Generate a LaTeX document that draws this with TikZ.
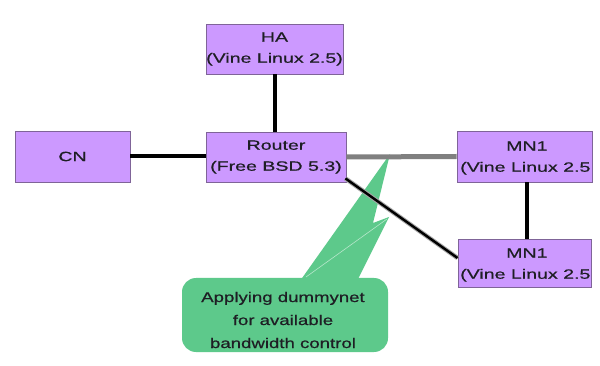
\documentclass[tikz,border=0pt]{standalone}
\usepackage{fontspec}
\setmainfont{Liberation Sans}
\newfontfamily\boxfont[FakeStretch=1.45,FakeBold=0.6]{Liberation Sans}
\newfontfamily\notefont[FakeStretch=1.33,FakeBold=0.6]{Liberation Sans}
\usetikzlibrary{calc}
\definecolor{boxfill}{HTML}{CC99FF}
\definecolor{boxline}{HTML}{7F6498}
\definecolor{notegreen}{HTML}{5DC98B}
\definecolor{txt}{HTML}{1E1E24}
\tikzset{
  hostbox/.style={draw=boxline, line width=0.9pt, fill=boxfill, inner sep=0pt,
    text=txt, font=\boxfont\fontsize{13.5}{21}\selectfont, align=center},
  wire/.style={line width=4pt, black},
  slowwire/.style={line width=5pt, color=black!50},
  notetext/.style={text=txt, font=\notefont\fontsize{14}{23}\selectfont, align=center, inner sep=0pt},
}
\begin{document}
\begin{tikzpicture}[x=1pt,y=-1pt]
\useasboundingbox[fill=white] (0,0) rectangle (600,366);

% callout
\fill[notegreen, rounded corners=14pt] (182,278) rectangle (388,352);
\fill[notegreen] (300,281) -- (390,154) -- (373,223) -- (389,217) -- (357,281) -- cycle;
\draw[white, opacity=0.55, line width=0.6pt] (306,277) -- (387,219);
\node[notetext] (note) at (283,320) {Applying dummynet\\for available\\bandwidth control};

% hosts
\node[hostbox, minimum width=137pt, minimum height=50pt] (HA) at (274.5,49) {HA\\(Vine Linux 2.5)};
\node[hostbox, minimum width=115pt, minimum height=51pt] (CN) at (72.5,156.5) {CN};
\node[hostbox, minimum width=140pt, minimum height=50pt] (R) at (276,157) {Router\\(Free BSD 5.3)};
\node[hostbox, minimum width=135pt, minimum height=51pt] (M1) at (524.5,156.5) {};
\node[hostbox, minimum width=133pt, minimum height=48pt] (M2) at (524.5,263) {};
\node[text=txt, font=\boxfont\fontsize{13.5}{21}\selectfont, align=left, inner sep=0pt, anchor=west] (M1t) at (460,158) {\hspace*{46pt}MN1\\(Vine Linux 2.5};
\node[text=txt, font=\boxfont\fontsize{13.5}{21}\selectfont, align=left, inner sep=0pt, anchor=west] (M2t) at (460,265) {\hspace*{46pt}MN1\\(Vine Linux 2.5};

% links
\draw[wire] (HA.south) -- (HA.south |- R.north);
\draw[wire] (CN.east) -- (R.west |- CN.east);
\draw[slowwire] (R.east) -- (M1.west);
\draw[wire] ($(M1.south)+(2.5,0)$) -- ($(M2.north)+(2.5,0)$);
\draw[line width=4.5pt, color=black!35] ($(R.south east)+(-1,-4)$) -- ($(M2.west)+(0,-5)$);
\draw[line width=2.4pt, black] ($(R.south east)+(-1,-4)$) -- ($(M2.west)+(0,-5)$);
\end{tikzpicture}
\end{document}
